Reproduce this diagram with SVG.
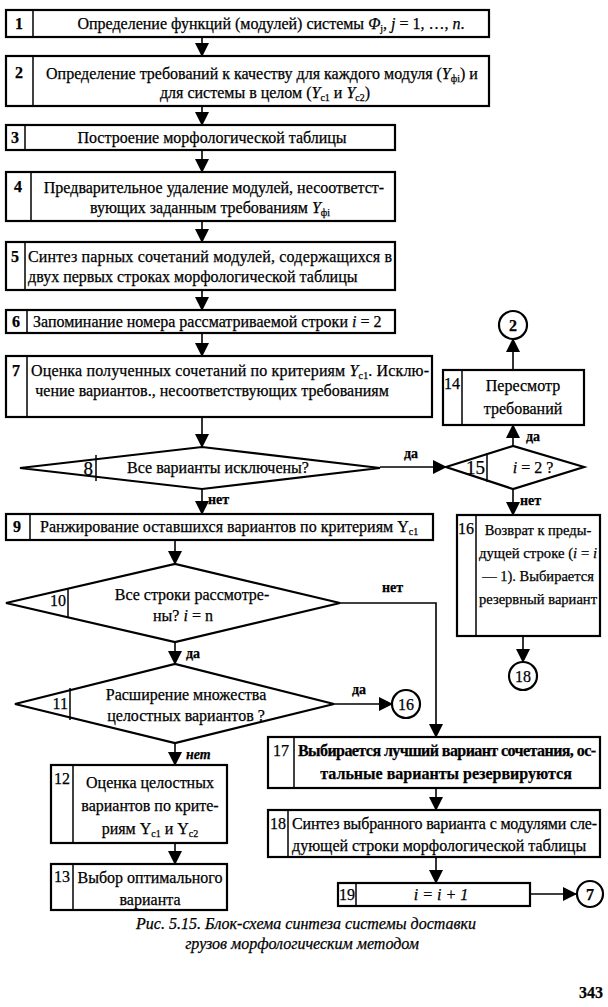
<svg xmlns="http://www.w3.org/2000/svg" width="608" height="1007" viewBox="0 0 608 1007">
<style>
.box{fill:none;stroke:#000;stroke-width:2.2}
.div{stroke:#000;stroke-width:1.5}
.ln{fill:none;stroke:#000;stroke-width:1.6}
text{font-family:"Liberation Serif","DejaVu Serif",serif;fill:#000;font-size:16px;stroke:#000;stroke-width:0.25}
.num{font-weight:bold;font-size:16px}
.n2{font-size:16px}
.big{font-size:19px}
.lab{font-weight:bold;font-size:14px}
.c{text-anchor:middle}
.e{text-anchor:end}
.it{font-style:italic}
.sub{font-size:10px}
.sm{font-size:14.5px}
.cap{font-style:italic;font-size:16px;text-anchor:middle}
</style>
<defs>
<marker id="ah" markerWidth="14" markerHeight="14" refX="13" refY="7" orient="auto" markerUnits="userSpaceOnUse">
<path d="M0,0 L14,7 L0,14 Z" fill="#000"/>
</marker>
</defs>
<rect width="608" height="1007" fill="#fff"/>

<g id="connectors">
<line class="ln" x1="202" y1="37" x2="202" y2="56" marker-end="url(#ah)"/>
<line class="ln" x1="202" y1="106" x2="202" y2="125" marker-end="url(#ah)"/>
<line class="ln" x1="202" y1="150" x2="202" y2="172" marker-end="url(#ah)"/>
<line class="ln" x1="202" y1="221" x2="202" y2="242" marker-end="url(#ah)"/>
<line class="ln" x1="202" y1="290" x2="202" y2="310" marker-end="url(#ah)"/>
<line class="ln" x1="202" y1="333" x2="202" y2="356" marker-end="url(#ah)"/>
<line class="ln" x1="202" y1="417" x2="202" y2="447" marker-end="url(#ah)"/>
<line class="ln" x1="380" y1="467" x2="446" y2="467" marker-end="url(#ah)"/>
<line class="ln" x1="513" y1="446" x2="513" y2="425" marker-end="url(#ah)"/>
<line class="ln" x1="513" y1="370" x2="513" y2="339" marker-end="url(#ah)"/>
<line class="ln" x1="513" y1="489" x2="513" y2="515" marker-end="url(#ah)"/>
<line class="ln" x1="523" y1="636" x2="523" y2="662" marker-end="url(#ah)"/>
<line class="ln" x1="202" y1="489" x2="202" y2="514" marker-end="url(#ah)"/>
<line class="ln" x1="175" y1="540" x2="175" y2="564" marker-end="url(#ah)"/>
<polyline class="ln" points="340,603 436,603 436,737" marker-end="url(#ah)"/>
<line class="ln" x1="175" y1="642" x2="175" y2="664" marker-end="url(#ah)"/>
<line class="ln" x1="334" y1="704" x2="392" y2="704" marker-end="url(#ah)"/>
<line class="ln" x1="175" y1="743" x2="175" y2="765" marker-end="url(#ah)"/>
<line class="ln" x1="175" y1="843" x2="175" y2="864" marker-end="url(#ah)"/>
<line class="ln" x1="436" y1="788" x2="436" y2="810" marker-end="url(#ah)"/>
<line class="ln" x1="436" y1="857" x2="436" y2="883" marker-end="url(#ah)"/>
<line class="ln" x1="530" y1="894" x2="576" y2="894" marker-end="url(#ah)"/>
<text class="lab" x="404" y="458">да</text>
<text class="lab" x="526" y="441">да</text>
<text class="lab" x="520" y="505">нет</text>
<text class="lab" x="208" y="504">нет</text>
<text class="lab" x="382" y="592">нет</text>
<text class="lab" x="186" y="658">да</text>
<text class="lab" x="352" y="694">да</text>
<text class="lab it" x="186" y="759">нет</text>
</g>

<g id="n1">
<rect class="box" x="6" y="10" width="483" height="27"/>
<line class="div" x1="33" y1="10" x2="33" y2="37"/>
<text class="num c" x="19" y="29">1</text>
<text class="c" x="271" y="29">Определение функций (модулей) системы <tspan class="it">Φ</tspan><tspan class="sub" dy="3">j</tspan><tspan dy="-3">, </tspan><tspan class="it">j</tspan> = 1, …, <tspan class="it">n</tspan>.</text>
</g>

<g id="n2">
<rect class="box" x="6" y="56" width="483" height="50"/>
<line class="div" x1="33" y1="56" x2="33" y2="106"/>
<text class="num c" x="19" y="78">2</text>
<text class="c" x="262" y="79">Определение требований к качеству для каждого модуля (<tspan class="it">Y</tspan><tspan class="sub" dy="3">фi</tspan><tspan dy="-3">) и</tspan></text>
<text class="c" x="265" y="98">для системы в целом (<tspan class="it">Y</tspan><tspan class="sub" dy="3">c1</tspan><tspan dy="-3"> и </tspan><tspan class="it">Y</tspan><tspan class="sub" dy="3">c2</tspan><tspan dy="-3">)</tspan></text>
</g>

<g id="n3">
<rect class="box" x="6" y="125" width="389" height="25"/>
<line class="div" x1="25" y1="125" x2="25" y2="150"/>
<text class="num c" x="15" y="143">3</text>
<text class="c" x="212" y="143">Построение морфологической таблицы</text>
</g>

<g id="n4">
<rect class="box" x="6" y="172" width="389" height="49"/>
<line class="div" x1="31" y1="172" x2="31" y2="221"/>
<text class="num c" x="18" y="192">4</text>
<text class="c" x="214" y="193">Предварительное удаление модулей, несоответст-</text>
<text class="c" x="210" y="213">вующих заданным требованиям <tspan class="it">Y</tspan><tspan class="sub" dy="3">фi</tspan></text>
</g>

<g id="n5">
<rect class="box" x="6" y="242" width="389" height="48"/>
<line class="div" x1="25" y1="242" x2="25" y2="290"/>
<text class="num c" x="15" y="262">5</text>
<text x="28" y="262" textLength="364" lengthAdjust="spacing">Синтез парных сочетаний модулей, содержащихся в</text>
<text x="28" y="282">двух первых строках морфологической таблицы</text>
</g>

<g id="n6">
<rect class="box" x="6" y="310" width="389" height="23"/>
<line class="div" x1="27" y1="310" x2="27" y2="333"/>
<text class="num c" x="16" y="327">6</text>
<text x="33" y="327">Запоминание номера рассматриваемой строки <tspan class="it">i</tspan> = 2</text>
</g>

<g id="n7">
<rect class="box" x="6" y="356" width="426" height="61"/>
<line class="div" x1="27" y1="356" x2="27" y2="417"/>
<text class="num c" x="16" y="376">7</text>
<text x="31" y="376" textLength="398" lengthAdjust="spacing">Оценка полученных сочетаний по критериям <tspan class="it">Y</tspan><tspan class="sub" dy="3">c1</tspan><tspan dy="-3">. Исклю-</tspan></text>
<text class="c" x="212" y="396">чение вариантов., несоответствующих требованиям</text>
</g>

<g id="n8">
<polygon class="box" points="20,468 202,447 380,468 202,489"/>
<line class="div" x1="96" y1="455" x2="96" y2="481"/>
<text class="big e" x="93" y="475">8</text>
<text class="c" x="218" y="473">Все варианты исключены?</text>
</g>

<g id="n9">
<rect class="box" x="6" y="514" width="427" height="26"/>
<line class="div" x1="30" y1="514" x2="30" y2="540"/>
<text class="num c" x="17" y="532">9</text>
<text x="40" y="532">Ранжирование оставшихся вариантов по критериям Y<tspan class="sub" dy="3">c1</tspan></text>
</g>

<g id="n10">
<polygon class="box" points="6,603 175,564 340,603 175,642"/>
<line class="div" x1="68" y1="589" x2="68" y2="618"/>
<text class="n2 e" x="66" y="606">10</text>
<text class="c" x="192" y="600">Все строки рассмотре-</text>
<text class="c" x="183" y="621">ны? <tspan class="it">i</tspan> = n</text>
</g>

<g id="n11">
<polygon class="box" points="15,704 175,664 334,704 175,743"/>
<line class="div" x1="70" y1="688" x2="70" y2="720"/>
<text class="n2 e" x="68" y="709">11</text>
<text class="c" x="186" y="700">Расширение множества</text>
<text class="c" x="186" y="721">целостных вариантов ?</text>
</g>

<g id="n12">
<rect class="box" x="51" y="765" width="176" height="78"/>
<line class="div" x1="73" y1="765" x2="73" y2="843"/>
<text class="n2 c" x="62" y="784">12</text>
<text class="c" x="150" y="788">Оценка целостных</text>
<text class="c" x="150" y="811">вариантов по крите-</text>
<text class="c" x="150" y="834">риям Y<tspan class="sub" dy="3">c1</tspan><tspan dy="-3"> и Y</tspan><tspan class="sub" dy="3">c2</tspan></text>
</g>

<g id="n13">
<rect class="box" x="51" y="864" width="176" height="46"/>
<line class="div" x1="73" y1="864" x2="73" y2="910"/>
<text class="n2 c" x="62" y="882">13</text>
<text class="c" x="150" y="883">Выбор оптимального</text>
<text class="c" x="150" y="905">варианта</text>
</g>

<g id="n14">
<rect class="box" x="443" y="370" width="141" height="55"/>
<line class="div" x1="462" y1="370" x2="462" y2="425"/>
<text class="n2 c" x="452" y="389">14</text>
<text class="c" x="523" y="391">Пересмотр</text>
<text class="c" x="523" y="414">требований</text>
</g>

<g id="c2">
<circle class="box" cx="513" cy="325" r="14"/>
<text class="num c" x="513" y="331">2</text>
</g>

<g id="n15">
<polygon class="box" points="446,467 513,446 584,467 513,489"/>
<line class="div" x1="487" y1="453" x2="487" y2="482"/>
<text class="big e" x="485" y="474">15</text>
<text class="c" x="533" y="473"><tspan class="it">i</tspan> = 2 ?</text>
</g>

<g id="n16">
<rect class="box" x="457" y="515" width="143" height="121"/>
<line class="div" x1="476" y1="515" x2="476" y2="636"/>
<text class="n2 c" x="466" y="534">16</text>
<text class="c sm" x="538" y="535">Возврат к преды-</text>
<text class="sm" x="479" y="558" textLength="118" lengthAdjust="spacingAndGlyphs">дущей строке (<tspan class="it">i</tspan> = <tspan class="it">i</tspan></text>
<text class="c sm" x="538" y="581">— 1). Выбирается</text>
<text class="sm" x="479" y="604" textLength="118" lengthAdjust="spacingAndGlyphs">резервный вариант</text>
</g>

<g id="c18">
<circle class="box" cx="523" cy="676" r="14"/>
<text class="n2 c" x="523" y="682">18</text>
</g>

<g id="c16">
<circle class="box" cx="406" cy="704" r="14"/>
<text class="n2 c" x="406" y="710">16</text>
</g>

<g id="n17">
<rect class="box" x="268" y="737" width="332" height="51"/>
<line class="div" x1="294" y1="737" x2="294" y2="788"/>
<text class="n2 c" x="281" y="756">17</text>
<text x="298" y="756" font-weight="bold" font-size="14" textLength="298" lengthAdjust="spacing">Выбирается лучший вариант сочетания, ос-</text>
<text class="c" x="446" y="779" font-weight="bold" font-size="14">тальные варианты резервируются</text>
</g>

<g id="n18">
<rect class="box" x="268" y="810" width="332" height="47"/>
<line class="div" x1="288" y1="810" x2="288" y2="857"/>
<text class="n2 c" x="278" y="829">18</text>
<text x="292" y="829" textLength="305" lengthAdjust="spacing">Синтез выбранного варианта с модулями сле-</text>
<text x="292" y="851">дующей строки морфологической таблицы</text>
</g>

<g id="n19">
<rect class="box" x="338" y="883" width="192" height="23"/>
<line class="div" x1="356" y1="883" x2="356" y2="906"/>
<text class="n2 c" x="347" y="900">19</text>
<text class="c it" x="441" y="900">i = i + 1</text>
</g>

<g id="c7">
<circle class="box" cx="590" cy="894" r="13"/>
<text class="num c" x="590" y="900">7</text>
</g>

<g id="caption">
<text class="cap" x="306" y="929">Рис. 5.15. Блок-схема синтеза системы доставки</text>
<text class="cap" x="302" y="949">грузов морфологическим методом</text>
<text x="603" y="998" font-weight="bold" font-size="18" text-anchor="end">343</text>
</g>
</svg>
